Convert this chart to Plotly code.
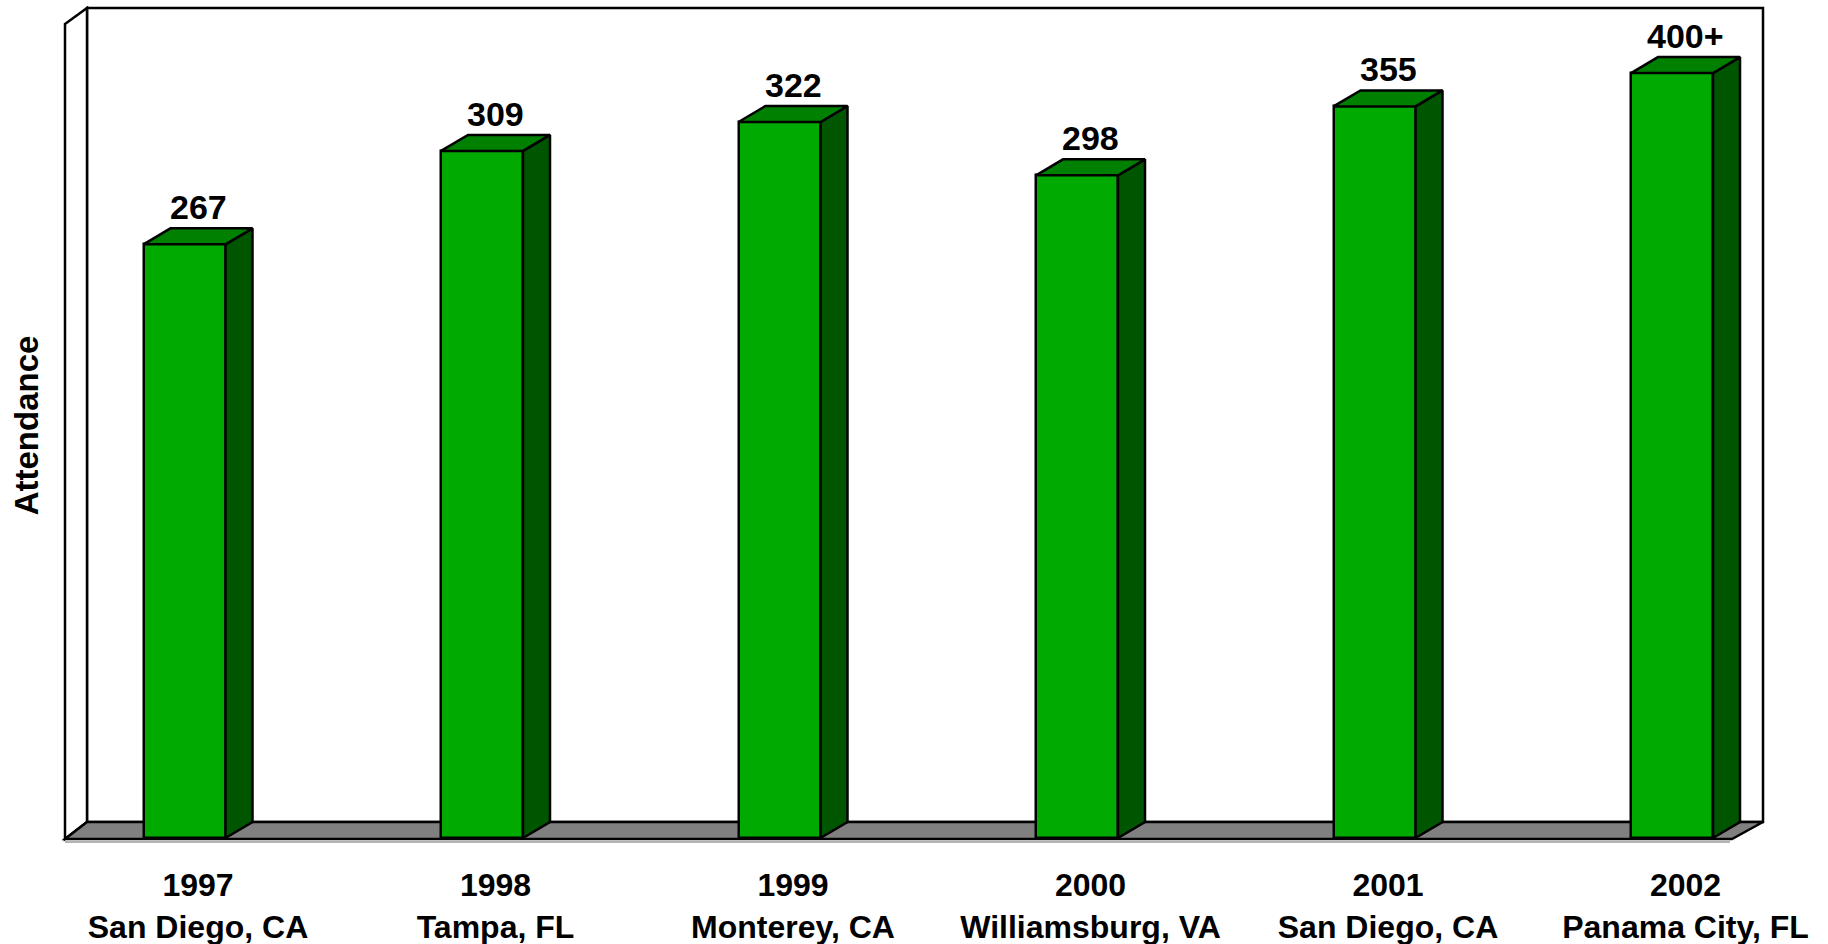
import plotly.graph_objects as go

# ---------------- data ----------------
years = ["1997", "1998", "1999", "2000", "2001", "2002"]
locations = ["San Diego, CA", "Tampa, FL", "Monterey, CA", "Williamsburg, VA",
             "San Diego, CA", "Panama City, FL"]
bar_heights = [267, 309, 322, 298, 329, 344]          # drawn heights
value_labels = ["267", "309", "322", "298", "355", "400+"]  # printed labels
y_title = "Attendance"

# ---------------- styling / geometry constants ----------------
W, H = 1828, 944
M_L, M_R, M_T, M_B = 62, 60, 6, 99
PX_PER_X = 297.5      # pixels per category step
PX_PER_Y = 2.2236     # pixels per attendance unit
FIRST_CX_PX = 184.5 - M_L  # first category centre, from plot left

FONT = "Liberation Sans, Arial, Helvetica, sans-serif"
FRONT = "#00AA00"
TOP = "#008000"
SIDE = "#005500"
FLOOR = "#808080"
LINE_W = 2.5


def ux(px):
    return px / PX_PER_X


def uy(px):
    return px / PX_PER_Y


plot_w = W - M_L - M_R
plot_h = H - M_T - M_B
x0 = -ux(FIRST_CX_PX)
x1 = x0 + ux(plot_w)
y0 = -uy(7)
y1 = y0 + uy(plot_h)

half_w = ux(41)     # half bar width
dx = ux(27)         # depth offset (x)
dy = uy(16)         # depth offset (y)

xs = list(range(len(years)))

fig = go.Figure()

# front faces: real bar trace
fig.add_trace(go.Bar(
    x=xs, y=bar_heights, base=0, width=2 * half_w,
    marker=dict(color=FRONT, line=dict(color="black", width=LINE_W)),
    hoverinfo="skip", showlegend=False,
))

# top and side faces computed from the bar values
top_x, top_y, side_x, side_y = [], [], [], []
for x, v in zip(xs, bar_heights):
    l, r = x - half_w, x + half_w
    top_x += [l, l + dx, r + dx, r, l, None]
    top_y += [v, v + dy, v + dy, v, v, None]
    side_x += [r, r + dx, r + dx, r, r, None]
    side_y += [v, v + dy, dy, 0, v, None]

fig.add_trace(go.Scatter(x=side_x, y=side_y, mode="lines", fill="toself",
                         fillcolor=SIDE, line=dict(color="black", width=LINE_W),
                         hoverinfo="skip", showlegend=False))
fig.add_trace(go.Scatter(x=top_x, y=top_y, mode="lines", fill="toself",
                         fillcolor=TOP, line=dict(color="black", width=LINE_W),
                         hoverinfo="skip", showlegend=False))

# value labels above the bars
for x, v, t in zip(xs, bar_heights, value_labels):
    fig.add_annotation(x=x + dx / 2, y=v + dy, text=t, showarrow=False,
                       xanchor="center", yanchor="bottom",
                       font=dict(family=FONT, size=34, color="black", weight="bold"))

# walls and floor (decoration, relative to the axis ranges)
bw_left = x0 + ux(25)
bw_right = x1 - ux(5)
bw_top = y1 - uy(2)
floor_back = dy
floor_front = -uy(1)
side_front_x = x0 + ux(3)
floor_front_right = bw_right - ux(31)

shapes = [
    # back wall
    dict(type="rect", xref="x", yref="y", x0=bw_left, x1=bw_right, y0=floor_back, y1=bw_top,
         fillcolor="white", line=dict(color="black", width=LINE_W), layer="below"),
    # left side wall
    dict(type="path", xref="x", yref="y",
         path=f"M{side_front_x},{bw_top - dy} L{bw_left},{bw_top} L{bw_left},{floor_back} "
              f"L{side_front_x},{floor_front} Z",
         fillcolor="white", line=dict(color="black", width=LINE_W), layer="below"),
    # floor shadow
    dict(type="line", xref="x", yref="y", x0=side_front_x, x1=floor_front_right - ux(2),
         y0=floor_front - uy(3), y1=floor_front - uy(3),
         line=dict(color="#b4b4b4", width=2), layer="below"),
    # floor
    dict(type="path", xref="x", yref="y",
         path=f"M{side_front_x},{floor_front} L{bw_left},{floor_back} L{bw_right},{floor_back} "
              f"L{floor_front_right},{floor_front} Z",
         fillcolor=FLOOR, line=dict(color="black", width=LINE_W), layer="below"),
]

tick_text = [f"{yv}<br>{loc}" for yv, loc in zip(years, locations)]

fig.update_layout(
    width=W, height=H,
    margin=dict(l=M_L, r=M_R, t=M_T, b=M_B, autoexpand=False),
    paper_bgcolor="white", plot_bgcolor="white",
    showlegend=False, bargap=0,
    shapes=shapes,
    font=dict(family=FONT, size=32, color="black"),
    xaxis=dict(range=[x0, x1], showgrid=False, zeroline=False, showline=False,
               tickmode="array", tickvals=[x + dx / 2 for x in xs], ticktext=tick_text,
               ticks="", ticklabelstandoff=18,
               tickfont=dict(family=FONT, size=32, color="black", weight="bold"),
               fixedrange=True),
    yaxis=dict(range=[y0, y1], showgrid=False, zeroline=False, showline=False,
               showticklabels=False, ticks="", fixedrange=True,
               title=dict(text=y_title, standoff=12,
                          font=dict(family=FONT, size=33, color="black", weight="bold"))),
)

fig.write_html("out.html", config={"displayModeBar": False},
               post_script="document.body.style.margin='0px';document.body.style.overflow='hidden';")
